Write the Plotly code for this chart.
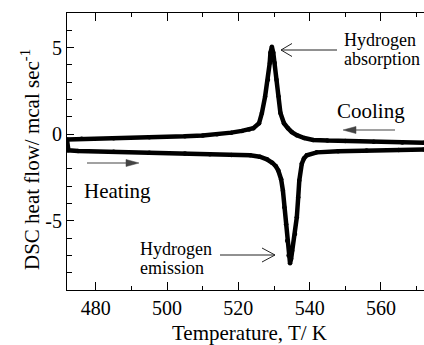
import plotly.graph_objects as go

# ---- data ----
cool_T = [572.1, 566, 558, 550, 545, 541, 538.5, 536.4, 535, 533.9, 532.8, 531.8, 531.3,
          530.7, 530.2, 529.8, 529.4, 529.0, 528.8, 528.3, 527.5, 526.6, 525.8, 524.2,
          523, 521, 518, 514, 510, 505, 495, 485, 476, 471.9]
cool_Q = [-0.5, -0.48, -0.44, -0.4, -0.37, -0.33, -0.22, -0.06, 0.12, 0.35, 0.63, 1.22, 2.17,
          3.14, 4.11, 4.7, 5.05, 4.7, 4.11, 3.14, 2.17, 1.22, 0.63, 0.35,
          0.27, 0.19, 0.09, -0.01, -0.07, -0.12, -0.18, -0.23, -0.27, -0.3]

heat_T = [471.9, 472.0, 472.3, 475, 485, 495, 505, 512, 518, 523.3, 526, 528, 529.5, 530.5,
          531.2, 532.0, 532.5, 532.9, 533.4, 533.7, 534.1, 534.5, 534.8, 535.1, 535.9, 536.4,
          536.8, 537.1, 537.8, 538.4, 539.2, 542, 548, 556, 565, 572.1]
heat_Q = [-0.35, -0.7, -0.93, -0.97, -1.02, -1.07, -1.12, -1.16, -1.2, -1.22, -1.3, -1.45,
          -1.65, -1.85, -2.1, -2.6, -3.26, -4.22, -5.2, -6.16, -7.0, -7.45, -7.2, -6.74,
          -5.77, -4.8, -3.64, -2.67, -1.71, -1.4, -1.22, -1.05, -0.98, -0.94, -0.91, -0.89]

x_ticks = [480, 500, 520, 540, 560]
x_ticklabels = ["480", "500", "520", "540", "560"]
y_ticks = [-5, 0, 5]
y_ticklabels = ["-5", "0", "5"]

FONT = "'Liberation Serif', 'Times New Roman', Times, serif"
XR = [471.9, 572.1]
YR = [-9, 7]
L, R, T, B = 67, 424, 13, 290


def dx(px):
    return XR[0] + (px - L) / (R - L) * (XR[1] - XR[0])


def dy(py):
    return YR[1] - (py - T) / (B - T) * (YR[1] - YR[0])


def fx(px):
    return (px - L) / (R - L)


def fy(py):
    return (B - py) / (B - T)


fig = go.Figure()
for xs, ys in [(cool_T, cool_Q), (heat_T, heat_Q)]:
    fig.add_trace(go.Scatter(x=xs, y=ys, mode="lines+markers",
                             line=dict(color="black", width=4.5),
                             marker=dict(color="black", size=4.5),
                             showlegend=False, cliponaxis=True))

shapes = []


def vline_arrow(x0, x1, y, head, half, color="#222"):
    d = -1 if x1 > x0 else 1
    shapes.append(dict(type="path", xref="x", yref="y",
                       path=f"M {dx(x0)},{dy(y)} L {dx(x1)},{dy(y)}",
                       line=dict(color=color, width=1)))
    shapes.append(dict(type="path", xref="x", yref="y",
                       path=f"M {dx(x1 + d*head)},{dy(y - half)} L {dx(x1)},{dy(y)} L {dx(x1 + d*head)},{dy(y + half)}",
                       line=dict(color=color, width=1)))


def filled_arrow(x0, x1, y, head, half, color="#444"):
    d = -1 if x1 > x0 else 1
    shapes.append(dict(type="path", xref="x", yref="y",
                       path=f"M {dx(x0)},{dy(y)} L {dx(x1 + d*head)},{dy(y)}",
                       line=dict(color=color, width=1.2)))
    shapes.append(dict(type="path", xref="x", yref="y",
                       path=f"M {dx(x1 + d*head)},{dy(y - half)} L {dx(x1)},{dy(y)} L {dx(x1 + d*head)},{dy(y + half)} Z",
                       line=dict(color=color, width=0.5), fillcolor=color))


vline_arrow(337, 281, 50, 11, 6.5)
vline_arrow(220, 275, 255, 13, 7)
filled_arrow(87, 139, 163, 13, 3.5)
filled_arrow(395, 343, 130, 13, 3.5)

ann = []


def text(s, px, py, size, xanchor="left"):
    ann.append(dict(text=s, x=dx(px), y=dy(py), xref="x", yref="y", showarrow=False,
                    xanchor=xanchor, yanchor="middle",
                    font=dict(family=FONT, size=size, color="black")))


text("Hydrogen", 342, 40, 18)
text("absorption", 342, 59, 18)
text("Cooling", 335, 111, 21)
text("Heating", 82, 191, 21)
text("Hydrogen", 138, 249, 18)
text("emission", 138, 268, 18)

ann.append(dict(text="DSC heat flow/ mcal sec<sup>-1</sup>", x=fx(30), y=fy(160),
                xref="paper", yref="paper", showarrow=False, textangle=-90,
                xanchor="center", yanchor="middle",
                font=dict(family=FONT, size=21, color="black")))
ann.append(dict(text="Temperature, T/ K", x=fx(249.5), y=fy(333),
                xref="paper", yref="paper", showarrow=False,
                xanchor="center", yanchor="middle",
                font=dict(family=FONT, size=21, color="black")))

fig.update_layout(
    width=424, height=345,
    margin=dict(l=L, r=424 - R, t=T, b=345 - B, pad=0),
    paper_bgcolor="white", plot_bgcolor="white",
    shapes=shapes, annotations=ann,
    font=dict(family=FONT, size=20, color="black"),
    xaxis=dict(range=XR, showgrid=False, zeroline=False, showline=True, linecolor="black",
               linewidth=1, mirror="ticks", ticks="inside", ticklen=8, tickcolor="black",
               tickwidth=1, tickmode="array", tickvals=x_ticks, ticktext=x_ticklabels,
               tickfont=dict(family=FONT, size=20, color="black"),
               minor=dict(dtick=10, tick0=470, ticks="inside", ticklen=4,
                          tickcolor="black", showgrid=False)),
    yaxis=dict(range=YR, showgrid=False, zeroline=False, showline=True, linecolor="black",
               linewidth=1, mirror=False, ticks="inside", ticklen=7, tickcolor="black",
               tickwidth=1, tickmode="array", tickvals=y_ticks, ticktext=y_ticklabels,
               tickfont=dict(family=FONT, size=20, color="black"),
               minor=dict(dtick=1, tick0=0, ticks="inside", ticklen=5,
                          tickcolor="black", showgrid=False)),
)

fig.write_html("out.html")
